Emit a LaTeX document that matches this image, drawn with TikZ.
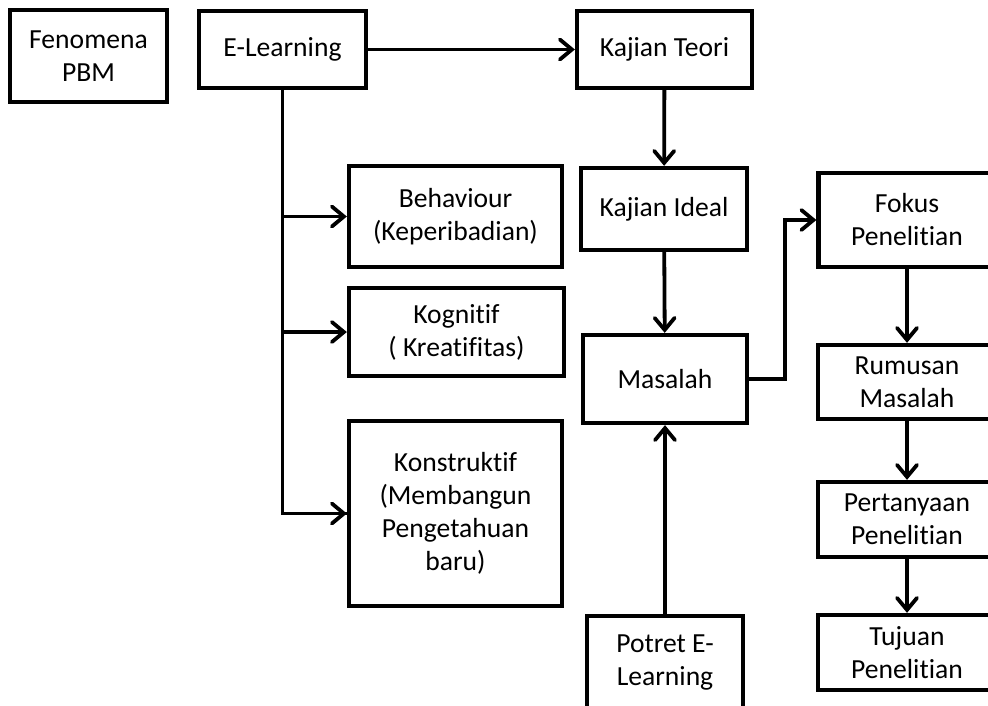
\documentclass[tikz,border=0pt]{standalone}
\usepackage{fontspec}
\setmainfont[Ligatures=NoCommon]{Carlito}
\usetikzlibrary{arrows.meta, positioning}

\tikzset{
  blok/.style={draw, line width=4.3pt, align=center, inner sep=0pt,
    font=\fontsize{27.6}{33}\selectfont},
  panah/.style={line width=3.8pt,
    -{Straight Barb[length=12pt, width=20pt, line cap=round]}},
  garis/.style={line width=3.8pt}
}

\begin{document}
\begin{tikzpicture}[x=1pt, y=-1pt]
\useasboundingbox (0,0) rectangle (988,705);
\clip (0,0) rectangle (988,705);
\node[blok, minimum width=157pt, minimum height=92pt] (fenomena) at (88.5,56) {Fenomena\\PBM};
\node[blok, minimum width=167pt, minimum height=77pt] (elearning) at (282.5,49.5) {E-Learning};
\node[blok, minimum width=175pt, minimum height=77pt] (teori) at (664.5,49.5) {Kajian Teori};
\node[blok, minimum width=213pt, minimum height=101pt] (behaviour) at (455.5,216.5) {Behaviour\\(Keperibadian)};
\node[blok, minimum width=166pt, minimum height=82pt] (ideal) at (664,209) {Kajian Ideal};
\node[blok, minimum width=177pt, minimum height=94pt] (fokus) at (907,220) {Fokus\\Penelitian};
\node[blok, minimum width=215pt, minimum height=88pt] (kognitif) at (456.5,332) {Kognitif\\( Kreatifitas)};
\node[blok, minimum width=164pt, minimum height=88pt] (masalah) at (665,379) {Masalah};
\node[blok, minimum width=178pt, minimum height=74pt] (rumusan) at (907,382) {Rumusan\\Masalah};
\node[blok, minimum width=213pt, minimum height=185pt] (konstruktif) at (455.5,513.5) {Konstruktif\\(Membangun\\Pengetahuan\\baru)};
\node[blok, minimum width=178pt, minimum height=75pt] (pertanyaan) at (907,519.5) {Pertanyaan\\Penelitian};
\node[blok, minimum width=156pt, minimum height=94pt] (potret) at (665,663) {Potret E-\\Learning};
\node[blok, minimum width=178pt, minimum height=75pt] (tujuan) at (907,652.5) {Tujuan\\Penelitian};

\draw[panah] (elearning) -- (teori);
\draw[garis] (elearning.south) |- (konstruktif.west);
\draw[panah] (elearning.south |- behaviour.west) -- (behaviour.west);
\draw[panah] (elearning.south |- kognitif.west) -- (kognitif.west);
\draw[panah] (elearning.south |- konstruktif.west) -- (konstruktif.west);
\draw[panah] (teori) -- (ideal);
\draw[panah] (ideal) -- (masalah);
\draw[panah] (potret) -- (masalah);
\draw[panah] (masalah.east) -- ++(36,0) |- (fokus.west);
\draw[panah] (fokus) -- (rumusan);
\draw[panah] (rumusan) -- (pertanyaan);
\draw[panah] (pertanyaan) -- (tujuan);
\end{tikzpicture}
\end{document}
